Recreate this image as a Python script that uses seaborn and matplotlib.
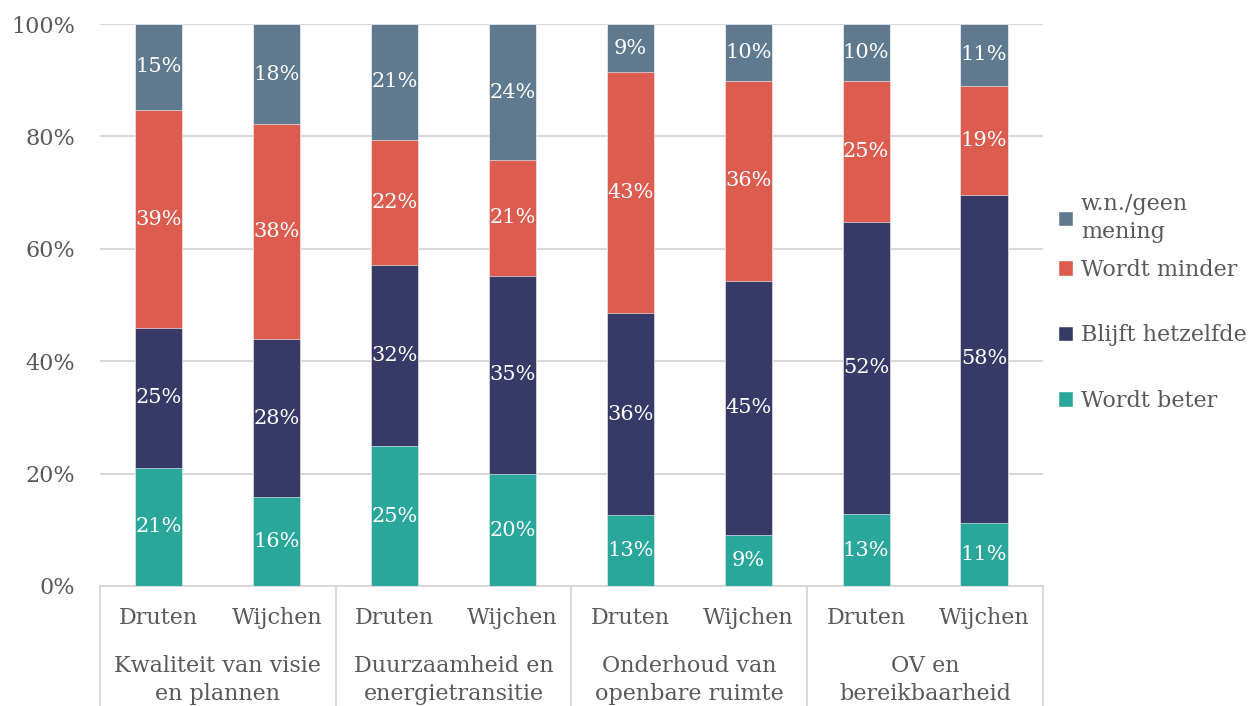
import numpy as np
import pandas as pd
import matplotlib.pyplot as plt
import matplotlib.transforms as mtransforms
from matplotlib.patches import Patch
import seaborn as sns

topics = ['Kwaliteit van visie\nen plannen', 'Duurzaamheid en\nenergietransitie',
          'Onderhoud van\nopenbare ruimte', 'OV en\nbereikbaarheid']
towns = ['Druten', 'Wijchen']
series = ['Wordt beter', 'Blijft hetzelfde', 'Wordt minder', 'w.n./geen\nmening']
beter = [21.0, 15.8, 24.9, 19.9, 12.6, 9.1, 12.8, 11.2]
hetzelfde = [24.9, 28.1, 32.2, 35.3, 36.0, 45.2, 52.0, 58.4]
minder = [38.8, 38.3, 22.3, 20.6, 42.8, 35.6, 25.1, 19.4]
geen = [15.3, 17.8, 20.6, 24.2, 8.6, 10.1, 10.1, 11.0]
colors = ['#2AA79B', '#373A67', '#DD5C50', '#5F7A8F']

sns.set_style('white')
plt.rcParams['font.family'] = ['DejaVu Serif']
txt = '#595959'
grid = '#D9D9D9'

keys = [f'{t}|{w}' for t in range(len(topics)) for w in towns]
vals = np.array([beter, hetzelfde, minder, geen])
cum = vals.cumsum(axis=0)
df = pd.DataFrame({'key': keys})

fig = plt.figure(figsize=(12.49, 7.06), dpi=100)
ax = fig.add_axes([0.080, 0.170, 0.755, 0.796])

# stacked bars: draw cumulative totals from the top layer down
for i in range(3, -1, -1):
    df['v'] = cum[i]
    sns.barplot(data=df, x='key', y='v', color=colors[i], width=0.4, saturation=1,
                edgecolor='white', linewidth=0.4, ax=ax, zorder=3)

for j in range(len(keys)):
    for i in range(4):
        mid = cum[i][j] - vals[i][j] / 2
        ax.text(j, mid, f'{vals[i][j]:.0f}%', ha='center', va='center',
                color='white', fontsize=15, zorder=4)

ax.set_xlim(-0.5, 7.5)
ax.set_ylim(0, 100)
ax.set_yticks(range(0, 101, 20))
ax.set_yticklabels([f'{v}%' for v in range(0, 101, 20)])
ax.yaxis.grid(True, color=grid, linewidth=1.5, zorder=0)
ax.set_axisbelow(True)
ax.tick_params(axis='y', length=0, pad=18, labelsize=16, labelcolor=txt)
ax.set_xticks(range(len(keys)))
ax.set_xticklabels([w for t in topics for w in towns])
ax.tick_params(axis='x', length=0, pad=15, labelsize=16, labelcolor=txt)
ax.set_xlabel('')
ax.set_ylabel('')
for s in ['top', 'right', 'left']:
    ax.spines[s].set_visible(False)
ax.spines['bottom'].set_color(grid)
ax.spines['bottom'].set_linewidth(1.5)

# second level of the category axis
trans = mtransforms.blended_transform_factory(ax.transData, ax.transAxes)
for k in range(len(topics) + 1):
    x = -0.5 + 2 * k
    ax.plot([x, x], [0, -0.25], transform=trans, color=grid, lw=1.5, clip_on=False)
for k, t in enumerate(topics):
    ax.text(2 * k + 0.5, -0.122, t, transform=trans, ha='center', va='top',
            fontsize=16, color=txt, linespacing=1.4)

h1 = [Patch(facecolor=colors[3])]
leg1 = fig.legend(h1, [series[3]], loc='upper left', bbox_to_anchor=(0.838, 0.743),
                  frameon=False, fontsize=16, handlelength=0.7, handleheight=0.7,
                  handletextpad=0.35, borderpad=0, labelcolor=txt)
leg1.get_texts()[0].set_linespacing(1.4)
h2 = [Patch(facecolor=colors[i]) for i in (2, 1, 0)]
fig.legend(h2, [series[i] for i in (2, 1, 0)], loc='upper left', bbox_to_anchor=(0.838, 0.649),
           frameon=False, fontsize=16, handlelength=0.7, handleheight=0.7,
           handletextpad=0.35, borderpad=0, labelspacing=1.95, labelcolor=txt)

fig.savefig('out.png', dpi=100)
